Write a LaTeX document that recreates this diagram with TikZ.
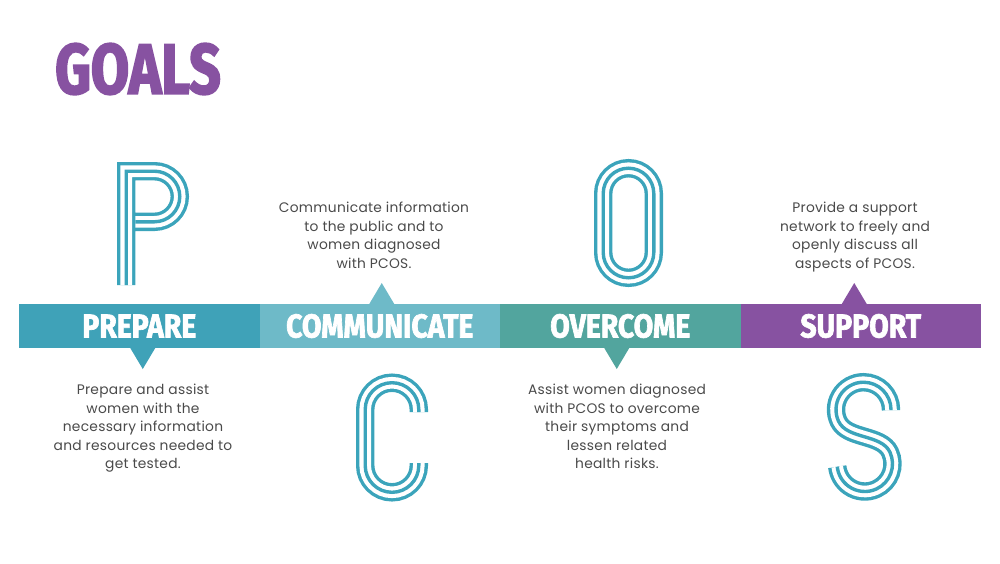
\documentclass[tikz,border=0pt]{standalone}
\usepackage{fontspec}
\setmainfont{Poppins}[LetterSpace=2]
\newfontfamily\bandfont[FakeStretch=0.86, FakeBold=2]{Fira Sans}
\newfontfamily\titlefont[FakeStretch=0.78, FakeBold=2.5]{Fira Sans}
\usepackage{tikz}
\usetikzlibrary{positioning}
\usepackage{xcolor}

\definecolor{prepcol}{HTML}{3FA2B8}
\definecolor{commcol}{HTML}{6EBAC8}
\definecolor{overcol}{HTML}{52A59E}
\definecolor{suppcol}{HTML}{8752A1}
\definecolor{lettercol}{HTML}{3BA4BB}
\definecolor{bodygray}{HTML}{4A4A4A}

\tikzset{
  seg/.style={minimum width=240.5pt, minimum height=44pt, inner sep=0pt, outer sep=0pt,
    text=white, font=\bandfont\bfseries\fontsize{33}{33}\selectfont},
  body/.style={align=center, text=bodygray, inner sep=0pt,
    font=\fontsize{13.8}{18.5}\selectfont},
  letterline/.style={line width=18.4pt, draw=lettercol,
    postaction={draw=white, line width=11.6pt},
    postaction={draw=lettercol, line width=3.4pt}}
}

\begin{document}
\begin{tikzpicture}[x=1pt, y=-1pt]
      \useasboundingbox (0,0) rectangle (1000,563);

      \node[anchor=north west, inner sep=0pt, text=suppcol,
        font=\titlefont\bfseries\fontsize{71}{71}\selectfont] (goals) at (55,43) {GOALS};

      % band
      \node[seg, fill=prepcol] (prep) at (139.25,326) {PREPARE};
      \node[seg, fill=commcol, right=0pt of prep] (comm) {COMMUNICATE};
      \node[seg, fill=overcol, right=0pt of comm] (over) {OVERCOME};
      \node[seg, fill=suppcol, right=0pt of over] (supp) {SUPPORT};

      \fill[prepcol] (prep.south) ++(-9,0) -- ++(12.5,21) -- ++(12.5,-21) -- cycle;
      \fill[commcol] (comm.north) ++(-10.5,0) -- ++(12.5,-21) -- ++(12.5,21) -- cycle;
      \fill[overcol] (over.south) ++(-16,0) -- ++(12.5,21) -- ++(12.5,-21) -- cycle;
      \fill[suppcol] (supp.north) ++(-19,0) -- ++(12.5,-21) -- ++(12.5,21) -- cycle;

      % texts
      \node[body, anchor=north] (preptext) at (143,384)
        {Prepare and assist\\women with the\\necessary information\\and resources needed to\\get tested.};
      \node[body, anchor=north] (commtext) at (374,202)
        {Communicate information\\to the public and to\\women diagnosed\\with PCOS.};
      \node[body, anchor=north] (overtext) at (617,384)
        {Assist women diagnosed\\with PCOS to overcome\\their symptoms and\\lessen related\\health risks.};
      \node[body, anchor=north] (supptext) at (855,202)
        {Provide a support\\network to freely and\\openly discuss all\\aspects of PCOS.};

      % letters
      \draw[letterline] (135.4,221.8) -- (154.5,221.8)
        arc[start angle=90, end angle=-90, radius=25.3] -- (126.2,171.2) -- (126.2,285);
      \draw[letterline] (418.8,412) -- (418.8,409.5)
        arc[start angle=0, end angle=-180, radius=26.8] -- (365.2,465.5)
        arc[start angle=180, end angle=0, radius=26.8] -- (418.8,463);
      \draw[letterline] (603.2,193.5) -- (603.2,252.5)
        arc[start angle=180, end angle=0, radius=25.3] -- (653.8,193.5)
        arc[start angle=0, end angle=-180, radius=25.3] -- cycle;
      \draw[letterline] (891,410) -- (891,409.7)
        arc[start angle=0, end angle=-205, radius=27.5]
        .. controls (847.1,439.4) and (881.4,434.0) .. (889.9,452.1)
        arc[start angle=-25, end angle=174, radius=27.7];
\end{tikzpicture}
\end{document}
